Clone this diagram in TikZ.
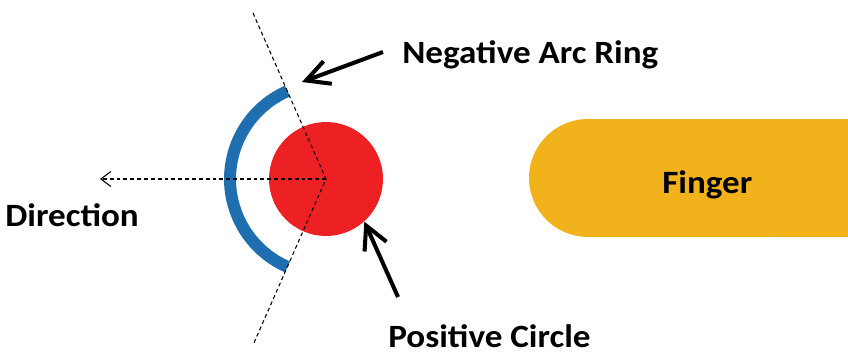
\documentclass[tikz,border=0pt]{standalone}
\usepackage{fontspec}
\setmainfont{Carlito}[FakeStretch=1.08]
\usetikzlibrary{arrows.meta}

\definecolor{rosso}{RGB}{237,32,36}
\definecolor{blu}{RGB}{31,111,176}
\definecolor{giallo}{RGB}{242,178,28}

\begin{document}
\begin{tikzpicture}[x=0.02cm, y=0.02cm, font=\bfseries\fontsize{18.5}{21}\selectfont]

        % Stili
        \tikzset{tratt/.style={line width=0.6pt, dash pattern=on 2.2pt off 1.7pt}}
        \tikzset{freccia/.style={line width=2.3pt, -{Straight Barb[length=4.6mm, width=4.8mm]}}}
        \tikzset{etich/.style={anchor=base west, inner sep=0pt}}

        % Area del disegno
        \useasboundingbox (0,0) rectangle (848,353);

        % Dito
        \fill[giallo] (848,234) -- (588,234) arc (90:270:1.18cm) -- (848,116) -- cycle;
        \node[etich] (fing) at (662,160) {Finger};

        % Cerchio positivo
        \node[circle, fill=rosso, minimum size=2.28cm, inner sep=0pt] (pos) at (326,174) {};
        \coordinate (ctr) at (326,174);

        % Anello ad arco negativo
        \draw[blu, line width=0.24cm] (ctr) ++(113.7:1.92cm) arc (113.7:246.3:1.92cm);

        % Linee tratteggiate
        \coordinate (su) at (253,340);
        \coordinate (giu) at (253,8);
        \coordinate (dirtip) at (100,174);
        \draw[tratt] (su) -- (ctr) -- (giu);
        \draw[tratt, -{Straight Barb[length=2mm, width=3mm]}] (ctr) -- (dirtip);

        % Etichette
        \node[etich] (neg) at (402,290) {Negative Arc Ring};
        \node[etich] (poslab) at (388,6) {Positive Circle};
        \node[etich] (dir) at (5,127) {Direction};

        % Frecce
        \coordinate (negtail) at (383,301);
        \coordinate (negtip) at (302,271);
        \coordinate (postail) at (398,56);
        \draw[freccia] (negtail) -- (negtip);
        \draw[freccia] (postail) -- (pos.-48);

\end{tikzpicture}
\end{document}
